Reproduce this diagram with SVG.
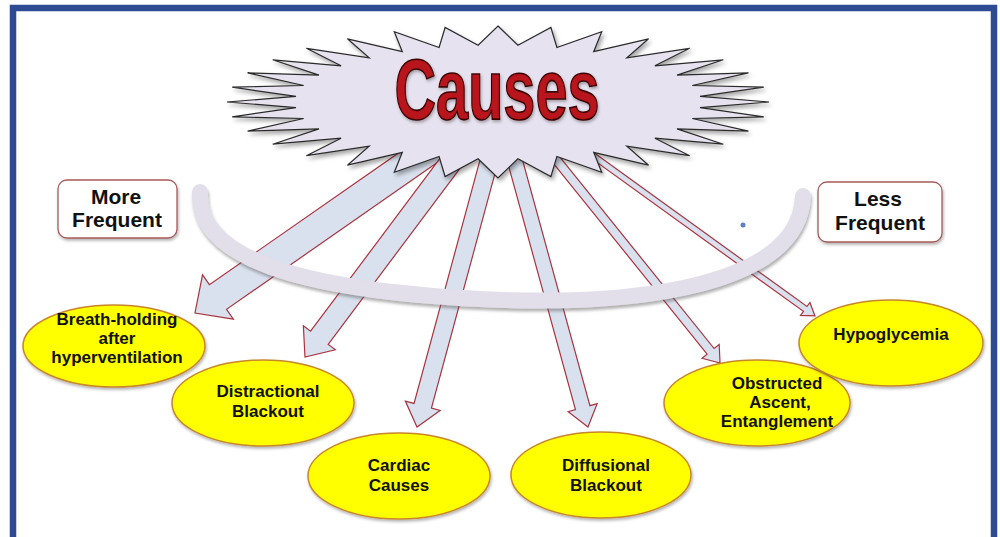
<svg xmlns="http://www.w3.org/2000/svg" width="1000" height="537" viewBox="0 0 1000 537">
<defs>
<filter id="sh" x="-10%" y="-20%" width="130%" height="150%"><feDropShadow dx="2" dy="3" stdDeviation="2" flood-color="#000" flood-opacity="0.35"/></filter>
<filter id="shs" x="-10%" y="-20%" width="130%" height="150%"><feDropShadow dx="1" dy="2" stdDeviation="1.5" flood-color="#000" flood-opacity="0.3"/></filter>
<filter id="sharc" x="-10%" y="-20%" width="130%" height="150%"><feDropShadow dx="1" dy="3" stdDeviation="1.5" flood-color="#555" flood-opacity="0.45"/></filter>
</defs>
<style>
.arrow{fill:#d9e1ee;stroke:#a8343f;stroke-width:1.2;stroke-linejoin:miter}
.cause{fill:#ffff00;stroke:#c8862c;stroke-width:1.5}
.lbl{font-family:"Liberation Sans",Arial,sans-serif;font-weight:bold;font-size:17px;fill:#111;text-anchor:middle}
.freq{fill:#fff;stroke:#a85a5a;stroke-width:1.3}
.ftxt{font-family:"Liberation Sans",Arial,sans-serif;font-weight:bold;font-size:21px;fill:#111;text-anchor:middle}
</style>
<rect width="1000" height="537" fill="#fff"/>
<rect x="13" y="8" width="981" height="560" fill="none" stroke="#2d4a93" stroke-width="6.5"/>

<g id="connectors">
<polygon class="arrow" transform="translate(442,141) rotate(145.15)" points="0,-15 273,-15 273,-27 301,0 273,27 273,15 0,15"/>
<polygon class="arrow" transform="translate(466,142) rotate(126.83)" points="0,-11 244.6,-11 244.6,-20 268.6,0 244.6,20 244.6,11 0,11"/>
<polygon class="arrow" transform="translate(492,150) rotate(105.15)" points="0,-9 265,-9 265,-18 287,0 265,18 265,9 0,9"/>
<polygon class="arrow" transform="translate(512,150) rotate(74.66)" points="0,-7.5 267.2,-7.5 267.2,-15 287.2,0 267.2,15 267.2,7.5 0,7.5"/>
<polygon class="arrow" transform="translate(550,152) rotate(51.14)" points="0,-4.5 256,-4.5 256,-11 271,0 256,11 256,4.5 0,4.5"/>
<polygon class="arrow" transform="translate(585,150) rotate(35.82)" points="0,-3 271.6,-3 271.6,-8 283.6,0 271.6,8 271.6,3 0,3"/>
</g>

<g id="causes">
<polygon filter="url(#sh)" fill="#e6e2ef" stroke="#2b2b2b" stroke-width="1.2" points="498,26 517.9,45.3 550.9,27.5 556.9,47.5 601.7,31.8 593.7,51.7 648.6,38.8 626.8,57.9 689.6,48.3 654.9,65.8 723.3,59.8 677,75.1 748.4,72.9 692.3,85.5 763.8,87.2 700,96.4 769,102 700,107.6 763.8,116.8 692.3,118.5 748.4,131.1 677,128.9 723.3,144.2 654.9,138.2 689.6,155.7 626.8,146.1 648.6,165.2 593.7,152.3 601.7,172.2 556.9,156.5 550.9,176.5 517.9,158.7 498,178 478.1,158.7 445.1,176.5 439.1,156.5 394.3,172.2 402.3,152.3 347.4,165.2 369.2,146.1 306.4,155.7 341.1,138.2 272.7,144.2 319,128.9 247.6,131.1 303.7,118.5 232.2,116.8 296,107.6 227,102 296,96.4 232.2,87.2 303.7,85.5 247.6,72.9 319,75.1 272.7,59.8 341.1,65.8 306.4,48.3 369.2,57.9 347.4,38.8 402.3,51.7 394.3,31.8 439.1,47.5 445.1,27.5 478.1,45.3"/>
<text x="497" y="119" text-anchor="middle" textLength="205" lengthAdjust="spacingAndGlyphs" font-family="'Liberation Sans',Arial,sans-serif" font-weight="bold" font-size="86" fill="#b8121c" stroke="#3a0505" stroke-width="1.6" filter="url(#shs)">Causes</text>
</g>

<g id="frequency-arc">
<path filter="url(#sharc)" d="M200,192 C196,258 300,290 480,299 C640,307 800,285 803,196" fill="none" stroke="#e2dfea" stroke-width="16" stroke-linecap="round"/>
<circle cx="743" cy="225" r="2.5" fill="#5b80c4"/>
</g>

<g id="more-frequent">
<rect class="freq" filter="url(#shs)" x="58" y="180" width="119" height="58" rx="9"/>
<text class="ftxt" x="116" y="204">More</text>
<text class="ftxt" x="117" y="227">Frequent</text>
</g>

<g id="less-frequent">
<rect class="freq" filter="url(#shs)" x="818" y="182" width="124" height="60" rx="9"/>
<text class="ftxt" x="878" y="206">Less</text>
<text class="ftxt" x="880" y="230">Frequent</text>
</g>

<g id="breath-holding">
<ellipse class="cause" filter="url(#shs)" cx="114" cy="346" rx="91" ry="41"/>
<text class="lbl" x="117" y="325">Breath-holding</text>
<text class="lbl" x="117" y="344">after</text>
<text class="lbl" x="117" y="363">hyperventilation</text>
</g>

<g id="distractional">
<ellipse class="cause" filter="url(#shs)" cx="263" cy="403" rx="91" ry="43"/>
<text class="lbl" x="268" y="397">Distractional</text>
<text class="lbl" x="268" y="417">Blackout</text>
</g>

<g id="cardiac">
<ellipse class="cause" filter="url(#shs)" cx="399" cy="476" rx="91" ry="43"/>
<text class="lbl" x="399" y="471">Cardiac</text>
<text class="lbl" x="399" y="491">Causes</text>
</g>

<g id="diffusional">
<ellipse class="cause" filter="url(#shs)" cx="601" cy="475" rx="90" ry="43"/>
<text class="lbl" x="606" y="471">Diffusional</text>
<text class="lbl" x="606" y="491">Blackout</text>
</g>

<g id="obstructed">
<ellipse class="cause" filter="url(#shs)" cx="757" cy="403" rx="93" ry="43"/>
<text class="lbl" x="777" y="389">Obstructed</text>
<text class="lbl" x="780" y="408">Ascent,</text>
<text class="lbl" x="777" y="427">Entanglement</text>
</g>

<g id="hypoglycemia">
<ellipse class="cause" filter="url(#shs)" cx="891" cy="343" rx="92" ry="43"/>
<text class="lbl" x="891" y="340">Hypoglycemia</text>
</g>
</svg>
